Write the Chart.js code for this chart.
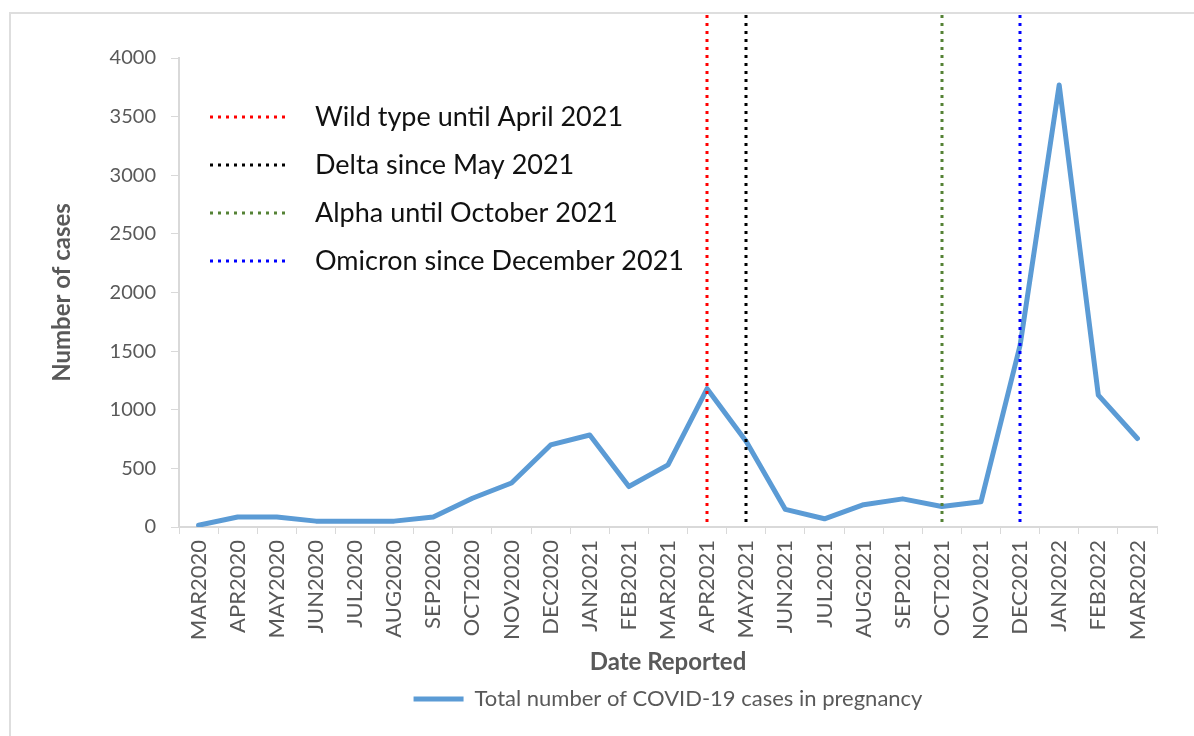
<!DOCTYPE html>
<html>
<head>
<meta charset="utf-8">
<title>COVID-19 cases in pregnancy</title>
<script src="https://cdn.jsdelivr.net/npm/chart.js"></script>
<style>
  html, body { margin: 0; padding: 0; background: #fff; }
  #chart { display: block; }
</style>
</head>
<body>
<canvas id="chart" width="1194" height="736"></canvas>
<script>
// data
var months = ['MAR2020', 'APR2020', 'MAY2020', 'JUN2020', 'JUL2020', 'AUG2020', 'SEP2020', 'OCT2020',
    'NOV2020', 'DEC2020', 'JAN2021', 'FEB2021', 'MAR2021', 'APR2021', 'MAY2021', 'JUN2021', 'JUL2021',
    'AUG2021', 'SEP2021', 'OCT2021', 'NOV2021', 'DEC2021', 'JAN2022', 'FEB2022', 'MAR2022'];
var cases = [15, 85, 85, 50, 50, 50, 85, 245, 375, 700, 785, 345, 530, 1180, 730, 150, 70,
    190, 240, 175, 215, 1550, 3770, 1125, 755];
var seriesName = 'Total number of COVID-19 cases in pregnancy';

// variant markers (vertical dotted lines + inner legend)
var variantNames = ['Wild type until April 2021', 'Delta since May 2021', 'Alpha until October 2021', 'Omicron since December 2021'];
var variantMonths = ['APR2021', 'MAY2021', 'OCT2021', 'DEC2021'];
var variantColors = ['#FF0000', '#000000', '#548235', '#0000FF'];

var yTicks = [0, 500, 1000, 1500, 2000, 2500, 3000, 3500, 4000];

var gray = '#595959';
var axisGray = '#d9d9d9';
var lineBlue = '#5B9BD5';
var bottomPad = 16;
var legendH = 41; // font 22 + padding 9 + 10

Chart.defaults.font.family = 'Lato';

// frame + variant lines + inner legend
var variantPlugin = {
    id: 'variants',
    beforeDraw: function (chart) {
        var ctx = chart.ctx;
        ctx.save();
        ctx.fillStyle = '#fff';
        ctx.fillRect(0, 0, chart.width, chart.height);
        ctx.strokeStyle = '#dedede';
        ctx.lineWidth = 2;
        ctx.beginPath();
        ctx.moveTo(10, chart.height);
        ctx.lineTo(10, 13);
        ctx.lineTo(chart.width, 13);
        ctx.stroke();
        ctx.restore();
    },
    afterDatasetsDraw: function (chart) {
        var ctx = chart.ctx;
        var x = chart.scales.x;
        var y = chart.scales.y;
        ctx.save();
        ctx.lineWidth = 3;
        ctx.setLineDash([3, 5]);
        for (var i = 0; i < variantMonths.length; i++) {
            var px = Math.round(x.getPixelForValue(months.indexOf(variantMonths[i])));
            ctx.strokeStyle = variantColors[i];
            ctx.beginPath();
            ctx.moveTo(px, 15);
            ctx.lineTo(px, y.getPixelForValue(0));
            ctx.stroke();
        }
        // inner legend
        ctx.font = '27px Lato';
        ctx.textBaseline = 'middle';
        for (var j = 0; j < variantNames.length; j++) {
            var ly = 117 + j * 48;
            ctx.strokeStyle = variantColors[j];
            ctx.beginPath();
            ctx.moveTo(210, ly);
            ctx.lineTo(288, ly);
            ctx.stroke();
            ctx.fillStyle = '#111';
            ctx.fillText(variantNames[j], 315, ly);
        }
        ctx.restore();
    }
};

var ctx = document.getElementById('chart').getContext('2d');
var chart = new Chart(ctx, {
    type: 'line',
    data: {
        labels: months,
        datasets: [{
            label: seriesName,
            data: cases,
            borderColor: lineBlue,
            backgroundColor: lineBlue,
            borderWidth: 5,
            pointRadius: 0,
            tension: 0,
            borderJoinStyle: 'round',
            borderCapStyle: 'round'
        }]
    },
    options: {
        responsive: false,
        animation: false,
        devicePixelRatio: 1,
        layout: {
            padding: { top: 58, right: 37, left: 0, bottom: bottomPad }
        },
        plugins: {
            tooltip: { enabled: false },
            legend: {
                position: 'bottom',
                fullSize: false,
                labels: {
                    boxWidth: 50,
                    boxHeight: 5,
                    padding: 9,
                    color: gray,
                    font: { size: 22 },
                    generateLabels: function (c) {
                        return [{
                            text: seriesName,
                            fillStyle: lineBlue,
                            strokeStyle: lineBlue,
                            lineWidth: 0,
                            hidden: false,
                            datasetIndex: 0,
                            fontColor: gray
                        }];
                    }
                }
            }
        },
        scales: {
            x: {
                offset: true,
                grid: { offset: true, drawOnChartArea: false, tickLength: 7, color: axisGray },
                border: { color: axisGray, width: 2 },
                ticks: {
                    autoSkip: false,
                    minRotation: 90,
                    maxRotation: 90,
                    padding: 6,
                    color: gray,
                    font: { size: 22 }
                },
                title: {
                    display: true,
                    text: 'Date Reported',
                    color: gray,
                    font: { size: 24, weight: 'bold' },
                    padding: { top: 0, bottom: 2 }
                },
                afterFit: function (s) {
                    s.height = s.chart.height - bottomPad - legendH - 527;
                }
            },
            y: {
                min: 0,
                max: 4000,
                afterBuildTicks: function (s) {
                    s.ticks = yTicks.map(function (v) { return { value: v }; });
                },
                grid: { drawOnChartArea: false, tickLength: 8, color: axisGray },
                border: { color: axisGray, width: 2 },
                ticks: {
                    padding: 15,
                    color: gray,
                    font: { size: 20 },
                    callback: function (v) { return String(v); }
                },
                title: {
                    display: true,
                    text: 'Number of cases',
                    color: gray,
                    font: { size: 24, weight: 'bold' },
                    padding: { top: 48, bottom: 0 }
                },
                afterFit: function (s) {
                    s.width = 179;
                }
            }
        }
    },
    plugins: [variantPlugin]
});
</script>
</body>
</html>
